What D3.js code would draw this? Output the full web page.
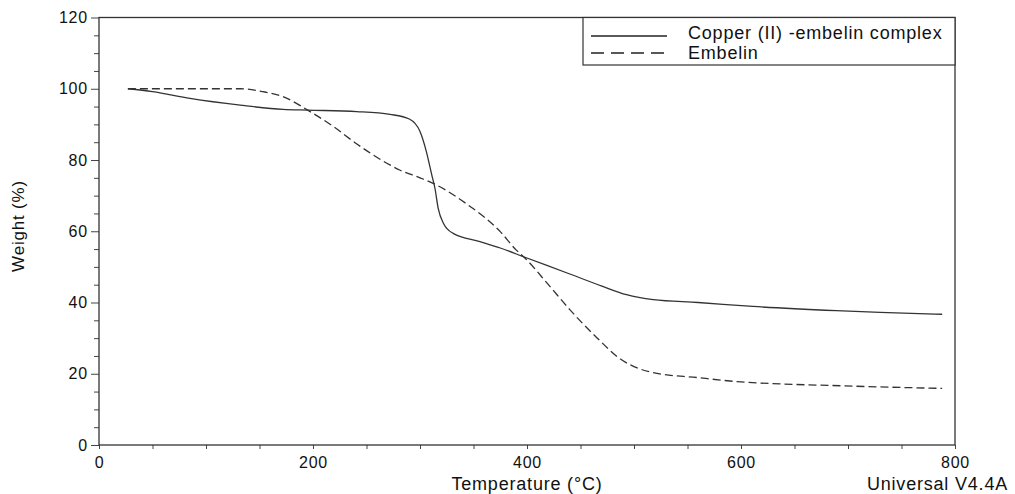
<html>
<script src='https://d3js.org/d3.v7.min.js'></script>
<style>
    body { margin: 0; background: white; }
    text { font-family: 'Liberation Sans', Arial, sans-serif; fill: #111; letter-spacing: 0.8px; }
    .curve { fill: none; stroke: #333; stroke-width: 1.3; }
</style>
    <body onload='init()'>
        <svg width=1015 height=494 id="chart1">
        </svg>
        <script>
            // Copper (II)-embelin complex (solid)
            var copperTemp   = [27, 50, 85, 132, 172, 195, 241, 272, 290, 300, 306, 311, 314, 317, 322, 331, 356, 375, 398, 440, 470, 493, 518, 560, 611, 689, 730, 788];
            var copperWeight = [100, 99.2, 97.3, 95.4, 94.2, 94, 93.6, 92.8, 91.5, 88, 82.3, 75.8, 72, 66.4, 62.2, 59.4, 57.1, 55.3, 52.7, 48, 44.6, 42.2, 40.8, 40, 38.9, 37.7, 37.2, 36.7];

            // Embelin (dashed)
            var embelinTemp   = [27, 80, 132, 153, 172, 195, 219, 241, 269, 281, 300, 314, 343, 375, 390, 398, 420, 440, 465, 487, 518, 560, 596, 640, 674, 730, 788];
            var embelinWeight = [100, 100, 100, 99.2, 97.8, 94, 89.4, 84.5, 79.1, 77.2, 75, 73.2, 67.8, 59.9, 54.7, 52.5, 45, 38, 30.2, 24.2, 20.3, 18.9, 17.8, 17.1, 16.8, 16.3, 15.9];

            var xTickLabels = [0, 200, 400, 600, 800];
            var yTickLabels = [0, 20, 40, 60, 80, 100, 120];
            var seriesNames = ["Copper (II) -embelin complex", "Embelin"];

            function init() {
                var svg = d3.select("svg");

                var left = 99, right = 955, top = 17.5, bottom = 445;

                var xScale = d3.scaleLinear().domain([0, 800]).range([left, right]);
                var yScale = d3.scaleLinear().domain([0, 120]).range([bottom, top]);

                // minor ticks every 50 / 5, labels on the major ones
                var xAxis = d3.axisBottom(xScale).tickValues(d3.range(0, 801, 50))
                    .tickSize(4).tickFormat(function (d) { return xTickLabels.indexOf(d) >= 0 ? d : ""; });
                var yAxis = d3.axisLeft(yScale).tickValues(d3.range(0, 121, 5))
                    .tickSize(5).tickFormat(function (d) { return yTickLabels.indexOf(d) >= 0 ? d : ""; });

                var gx = svg.append("g")
                    .attr("transform", "translate(0," + bottom + ")")
                    .call(xAxis);
                gx.select(".domain").remove();
                gx.selectAll("text").attr("font-size", 16).attr("dy", "1.0em")
                    .style("font-family", "'Liberation Sans', Arial, sans-serif");
                gx.selectAll("line").attr("stroke", "#444");

                var gy = svg.append("g")
                    .attr("transform", "translate(" + left + ",0)")
                    .call(yAxis);
                gy.select(".domain").remove();
                gy.selectAll("text").attr("font-size", 16).attr("x", -11)
                    .style("font-family", "'Liberation Sans', Arial, sans-serif");
                gy.selectAll("line").attr("stroke", "#444");
                gy.selectAll(".tick").filter(function (d) { return yTickLabels.indexOf(d) >= 0; })
                    .select("line").attr("x2", -8);

                // plot frame
                svg.append("rect")
                    .attr("x", left).attr("y", top)
                    .attr("width", right - left).attr("height", bottom - top)
                    .attr("fill", "none").attr("stroke", "#333").attr("stroke-width", 1.3);

                var line = d3.line()
                    .x(function (d) { return xScale(d[0]); })
                    .y(function (d) { return yScale(d[1]); })
                    .curve(d3.curveMonotoneX);

                var copper = d3.zip(copperTemp, copperWeight);
                var embelin = d3.zip(embelinTemp, embelinWeight);

                svg.append("path").datum(copper).attr("class", "curve").attr("d", line);
                svg.append("path").datum(embelin).attr("class", "curve")
                    .attr("stroke-dasharray", "8,4").attr("d", line);

                // legend
                var lg = svg.append("g");
                lg.append("rect").attr("x", 583).attr("y", top)
                    .attr("width", right - 583).attr("height", 65 - top)
                    .attr("fill", "white").attr("stroke", "#333").attr("stroke-width", 1.2);
                lg.selectAll(".lgline").data(seriesNames).enter().append("line")
                    .attr("x1", 591).attr("x2", 667)
                    .attr("y1", function (d, i) { return 36 + i * 17; })
                    .attr("y2", function (d, i) { return 36 + i * 17; })
                    .attr("stroke", "#222").attr("stroke-width", 1.3)
                    .attr("stroke-dasharray", function (d, i) { return i == 1 ? "13,7" : null; });
                lg.selectAll(".lgtext").data(seriesNames).enter().append("text")
                    .attr("x", 688)
                    .attr("y", function (d, i) { return 39 + i * 20; })
                    .attr("font-size", 18)
                    .text(function (d) { return d; });

                // axis titles
                svg.append("text")
                    .attr("transform", "translate(24,226) rotate(-90)")
                    .attr("text-anchor", "middle").attr("font-size", 17)
                    .text("Weight (%)");
                svg.append("text")
                    .attr("x", 527).attr("y", 490)
                    .attr("text-anchor", "middle").attr("font-size", 18)
                    .text("Temperature (°C)");
                svg.append("text")
                    .attr("x", 1008).attr("y", 490)
                    .attr("text-anchor", "end").attr("font-size", 18)
                    .text("Universal V4.4A");
            }
        </script>
    </body>
</html>
